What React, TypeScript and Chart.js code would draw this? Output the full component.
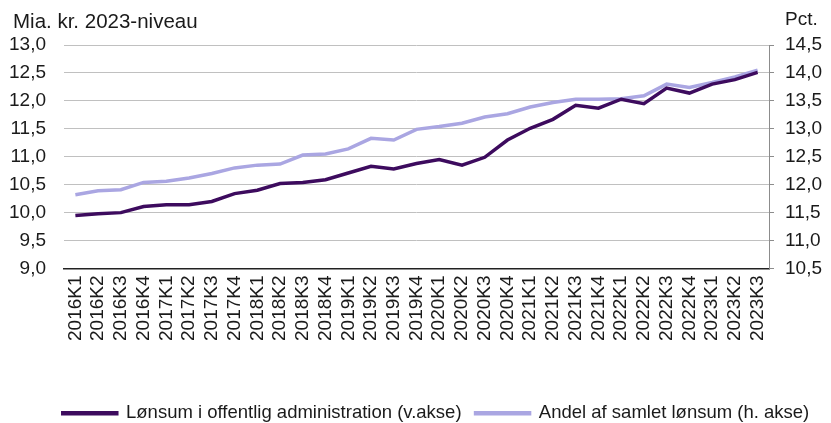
import React, { useEffect, useRef } from "react";
import { Chart, registerables } from "chart.js";

Chart.register(...registerables);

const categories = [
  "2016K1", "2016K2", "2016K3", "2016K4",
  "2017K1", "2017K2", "2017K3", "2017K4",
  "2018K1", "2018K2", "2018K3", "2018K4",
  "2019K1", "2019K2", "2019K3", "2019K4",
  "2020K1", "2020K2", "2020K3", "2020K4",
  "2021K1", "2021K2", "2021K3", "2021K4",
  "2022K1", "2022K2", "2022K3", "2022K4",
  "2023K1", "2023K2", "2023K3",
];

// Mia. kr. 2023-niveau (venstre akse)
const loensum = [
  9.95, 9.98, 10.0, 10.11, 10.14, 10.14, 10.2, 10.34, 10.4, 10.52, 10.54, 10.59,
  10.71, 10.83, 10.78, 10.88, 10.95, 10.85, 10.99, 11.3, 11.51, 11.67, 11.92,
  11.87, 12.03, 11.95, 12.23, 12.14, 12.3, 12.38, 12.51,
];

// Pct. (højre akse)
const andel = [
  11.82, 11.89, 11.91, 12.04, 12.06, 12.12, 12.2, 12.3, 12.35, 12.37, 12.53,
  12.55, 12.64, 12.83, 12.8, 12.99, 13.04, 13.1, 13.21, 13.27, 13.39, 13.47,
  13.53, 13.53, 13.54, 13.59, 13.8, 13.74, 13.83, 13.93, 14.05,
];

const seriesNames = [
  "Lønsum i offentlig administration (v.akse)",
  "Andel af samlet lønsum (h. akse)",
];
const leftTitle = "Mia. kr. 2023-niveau";
const rightTitle = "Pct.";

const DARK = "#3d0b5e";
const LIGHT = "#aaa6e2";
const FONT = "'Liberation Sans', Arial, sans-serif";

const fmt = (v: number | string) => Number(v).toFixed(1).replace(".", ",");

const titlesPlugin = {
  id: "axisTitles",
  afterLayout(chart: any) {
    const lg = chart.legend;
    if (lg) {
      const h = lg.bottom - lg.top;
      lg.left += 41;
      lg.top = 390;
      lg.bottom = lg.top + h;
    }
  },
  afterDraw(chart: any) {
    const ctx = chart.ctx;
    ctx.save();
    ctx.fillStyle = "#1a1a1a";
    ctx.textBaseline = "middle";
    ctx.textAlign = "left";
    ctx.font = `20.5px ${FONT}`;
    ctx.fillText(leftTitle, 13, 22);
    ctx.font = `19px ${FONT}`;
    ctx.fillText(rightTitle, 785, 20);
    ctx.restore();
  },
};

export default function App() {
  const ref = useRef<HTMLCanvasElement | null>(null);

  useEffect(() => {
    if (!ref.current) return;
    const chart = new Chart(ref.current, {
      type: "line",
      data: {
        labels: categories,
        datasets: [
          {
            label: seriesNames[0],
            data: loensum,
            borderColor: DARK,
            backgroundColor: DARK,
            borderWidth: 3.5,
            pointRadius: 0,
            tension: 0,
            yAxisID: "y",
          },
          {
            label: seriesNames[1],
            data: andel,
            borderColor: LIGHT,
            backgroundColor: LIGHT,
            borderWidth: 3.5,
            pointRadius: 0,
            tension: 0,
            yAxisID: "y1",
          },
        ],
      },
      options: {
        responsive: false,
        animation: false,
        layout: { padding: { top: 45, left: 0, right: 0, bottom: 0 } },
        plugins: {
          tooltip: { enabled: false },
          legend: {
            position: "bottom",
            labels: {
              boxWidth: 54,
              boxHeight: 1,
              padding: 14,
              color: "#1a1a1a",
              font: { family: FONT, size: 18.5 },
            },
          },
        },
        scales: {
          x: {
            offset: true,
            grid: { display: false, drawTicks: false },
            border: { display: true, color: "#222", width: 1.5 },
            ticks: {
              autoSkip: false,
              maxRotation: 90,
              minRotation: 90,
              padding: 7,
              color: "#1a1a1a",
              font: { family: FONT, size: 19 },
            },
            afterFit: (s: any) => {
              s.height = 112;
            },
          },
          y: {
            position: "left",
            min: 9,
            max: 13,
            ticks: {
              stepSize: 0.5,
              padding: 18,
              color: "#1a1a1a",
              font: { family: FONT, size: 19 },
              callback: (v: any) => fmt(v),
            },
            grid: { color: "#c0c0c0", lineWidth: 1, drawTicks: false },
            border: { display: false },
            afterFit: (s: any) => {
              s.width = 64;
            },
          },
          y1: {
            position: "right",
            min: 10.5,
            max: 14.5,
            ticks: {
              stepSize: 0.5,
              padding: 11,
              color: "#1a1a1a",
              font: { family: FONT, size: 19 },
              callback: (v: any) => fmt(v),
            },
            grid: { drawOnChartArea: false, drawTicks: true, tickLength: 5, color: "#8c8c8c" },
            border: { display: true, color: "#8c8c8c", width: 1 },
            afterFit: (s: any) => {
              s.width = 62;
            },
          },
        },
      },
      plugins: [titlesPlugin],
    });
    return () => chart.destroy();
  }, []);

  return (
    <div style={{ position: "fixed", left: 0, top: 0, width: 831, height: 423, background: "#fff" }}>
      <canvas ref={ref} width={831} height={423} />
    </div>
  );
}
